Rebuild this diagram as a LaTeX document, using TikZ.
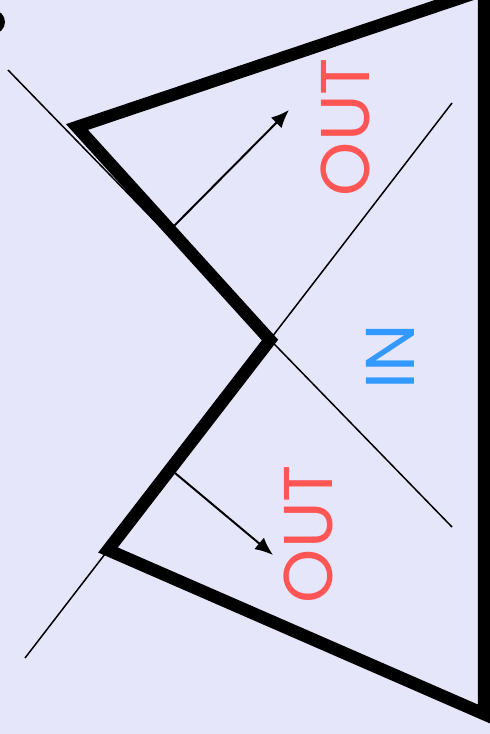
\documentclass[tikz,border=0pt]{standalone}
\usepackage{fontspec}
\setsansfont{Poppins}
\usepackage{xcolor}
\usetikzlibrary{arrows.meta}

\definecolor{bgcol}{HTML}{E6E6FA}
\definecolor{outcol}{HTML}{FF5555}
\definecolor{incol}{HTML}{3399FF}

\begin{document}
\begin{tikzpicture}[
  x=1pt, y=-1pt,
  font=\sffamily\fontsize{69}{69}\selectfont,
  edge/.style={line width=12.5pt, line join=miter},
  guide/.style={line width=1.5pt},
  arrow/.style={-{Latex[length=18pt, width=15pt]}, line width=2pt},
  lbl/.style={rotate=90, inner sep=0pt}
]
\fill[bgcol] (0,0) rectangle (490,734);
\useasboundingbox (0,0) rectangle (490,734);
\clip (0,0) rectangle (490,734);

% corners of the boundary
\coordinate (tl) at (77,127);
\coordinate (mid) at (270,340);
\coordinate (bl) at (108,550);
\coordinate (br) at (484,714);
\coordinate (tr) at (484,-10);

% ends of the thin lines
\coordinate (g1a) at (8,70);
\coordinate (g1b) at (452,527);
\coordinate (g2a) at (25,658);
\coordinate (g2b) at (452,103);

% arrow ends
\coordinate (a1s) at (172,228);
\coordinate (a1e) at (289,110);
\coordinate (a2s) at (175,473);
\coordinate (a2e) at (273,555);

\fill (-7,22) circle (12);

\draw[guide] (g1a) -- (g1b);
\draw[guide] (g2a) -- (g2b);

\draw[edge] (tr) -- (tl) -- (mid) -- (bl) -- (br) -- cycle;

\draw[arrow] (a1s) -- (a1e);
\draw[arrow] (a2s) -- (a2e);

\node[lbl, text=outcol] (outtop) at (345.5,127) {OUT};
\node[lbl, text=incol] (in) at (390,357) {IN};
\node[lbl, text=outcol] (outbot) at (308,534) {OUT};
\end{tikzpicture}
\end{document}
